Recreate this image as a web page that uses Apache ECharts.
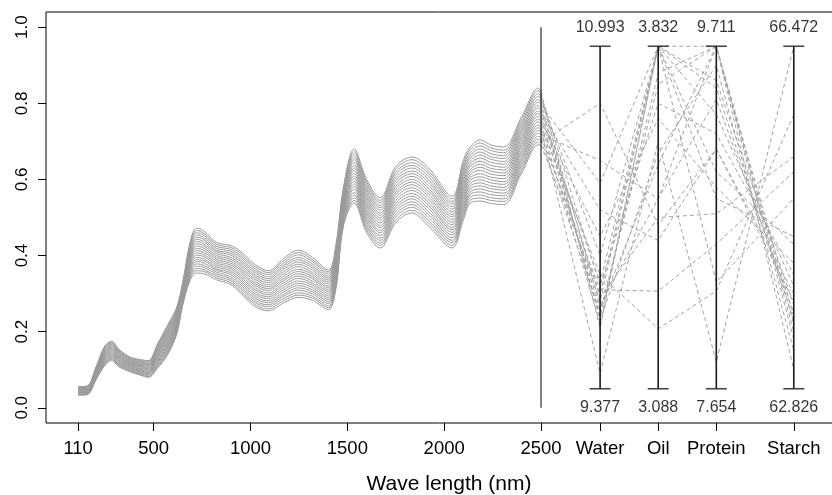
<!DOCTYPE html>
<html><head><meta charset="utf-8">
<script src="https://cdn.jsdelivr.net/npm/echarts@6/dist/echarts.min.js"></script>
<style>html,body{margin:0;padding:0;background:#fff}#c{width:832px;height:495px}</style>
</head><body><div id="c"></div><script>
// wavelength grid (nm) of the spectra
const wavelengths = [110,155,205,248,283,320,380,430,472,520,567,617,650,690,722,760,826,894,946,1000,1049,1092,1170,1247,1320,1402,1440,1480,1535,1600,1669,1750,1833,1920,2040,2100,2134,2186,2240,2307,2400,2487,2500];
// absorbance: one row per wavelength, one column per sample (21 samples)
const absorbance = [
[0.033,0.034,0.035,0.036,0.038,0.039,0.040,0.041,0.042,0.043,0.045,0.046,0.047,0.048,0.049,0.050,0.051,0.053,0.054,0.055,0.056],
[0.034,0.035,0.036,0.037,0.039,0.040,0.041,0.042,0.043,0.044,0.046,0.047,0.048,0.049,0.050,0.051,0.052,0.054,0.055,0.056,0.057],
[0.076,0.078,0.080,0.081,0.083,0.085,0.087,0.088,0.090,0.092,0.094,0.095,0.097,0.099,0.101,0.102,0.104,0.106,0.108,0.109,0.111],
[0.111,0.114,0.116,0.119,0.121,0.124,0.127,0.129,0.132,0.134,0.137,0.140,0.142,0.145,0.147,0.150,0.153,0.155,0.158,0.160,0.163],
[0.124,0.127,0.129,0.132,0.134,0.137,0.139,0.142,0.144,0.147,0.150,0.152,0.155,0.157,0.160,0.162,0.165,0.167,0.170,0.172,0.175],
[0.108,0.110,0.113,0.115,0.117,0.120,0.122,0.124,0.126,0.129,0.131,0.133,0.136,0.138,0.140,0.143,0.145,0.147,0.149,0.152,0.154],
[0.094,0.096,0.098,0.100,0.102,0.104,0.106,0.108,0.110,0.112,0.114,0.115,0.117,0.119,0.121,0.123,0.125,0.127,0.129,0.131,0.133],
[0.086,0.088,0.090,0.092,0.094,0.096,0.098,0.100,0.102,0.104,0.107,0.109,0.111,0.113,0.115,0.117,0.119,0.121,0.123,0.125,0.127],
[0.080,0.082,0.084,0.087,0.089,0.091,0.093,0.095,0.098,0.100,0.102,0.104,0.106,0.109,0.111,0.113,0.115,0.117,0.120,0.122,0.124],
[0.104,0.107,0.110,0.114,0.117,0.120,0.123,0.126,0.130,0.133,0.136,0.139,0.142,0.146,0.149,0.152,0.155,0.158,0.162,0.165,0.168],
[0.135,0.139,0.143,0.147,0.151,0.155,0.158,0.162,0.166,0.170,0.174,0.178,0.182,0.186,0.190,0.194,0.197,0.201,0.205,0.209,0.213],
[0.190,0.194,0.197,0.201,0.204,0.208,0.212,0.215,0.219,0.222,0.226,0.230,0.233,0.237,0.240,0.244,0.248,0.251,0.255,0.258,0.262],
[0.270,0.273,0.276,0.279,0.282,0.285,0.288,0.291,0.294,0.297,0.300,0.303,0.306,0.309,0.312,0.315,0.318,0.321,0.324,0.327,0.330],
[0.337,0.342,0.347,0.352,0.358,0.363,0.368,0.373,0.378,0.383,0.389,0.394,0.399,0.404,0.409,0.414,0.419,0.425,0.430,0.435,0.440],
[0.354,0.360,0.366,0.372,0.378,0.384,0.389,0.395,0.401,0.407,0.413,0.419,0.425,0.431,0.437,0.443,0.448,0.454,0.460,0.466,0.472],
[0.352,0.358,0.363,0.369,0.374,0.380,0.386,0.391,0.397,0.402,0.408,0.414,0.419,0.425,0.430,0.436,0.442,0.447,0.453,0.458,0.464],
[0.336,0.341,0.346,0.351,0.356,0.361,0.365,0.370,0.375,0.380,0.385,0.390,0.395,0.400,0.405,0.410,0.414,0.419,0.424,0.429,0.434],
[0.325,0.330,0.335,0.340,0.345,0.351,0.356,0.361,0.366,0.371,0.376,0.381,0.386,0.391,0.396,0.402,0.407,0.412,0.417,0.422,0.427],
[0.303,0.308,0.314,0.319,0.325,0.330,0.336,0.341,0.347,0.352,0.358,0.363,0.368,0.374,0.379,0.385,0.390,0.396,0.401,0.407,0.412],
[0.275,0.281,0.286,0.292,0.297,0.303,0.308,0.314,0.319,0.325,0.331,0.336,0.342,0.347,0.353,0.358,0.364,0.369,0.375,0.380,0.386],
[0.259,0.264,0.270,0.275,0.281,0.286,0.292,0.297,0.303,0.308,0.314,0.319,0.324,0.330,0.335,0.341,0.346,0.352,0.357,0.363,0.368],
[0.255,0.260,0.266,0.271,0.276,0.281,0.287,0.292,0.297,0.302,0.308,0.313,0.318,0.323,0.329,0.334,0.339,0.344,0.350,0.355,0.360],
[0.275,0.281,0.287,0.293,0.298,0.304,0.310,0.316,0.322,0.328,0.334,0.339,0.345,0.351,0.357,0.363,0.369,0.374,0.380,0.386,0.392],
[0.290,0.296,0.302,0.309,0.315,0.321,0.327,0.333,0.340,0.346,0.352,0.358,0.364,0.371,0.377,0.383,0.389,0.395,0.402,0.408,0.414],
[0.282,0.288,0.293,0.299,0.305,0.310,0.316,0.322,0.327,0.333,0.339,0.344,0.350,0.355,0.361,0.367,0.372,0.378,0.384,0.389,0.395],
[0.258,0.263,0.268,0.274,0.279,0.284,0.289,0.294,0.300,0.305,0.310,0.315,0.320,0.326,0.331,0.336,0.341,0.346,0.352,0.357,0.362],
[0.310,0.316,0.322,0.327,0.333,0.339,0.345,0.350,0.356,0.362,0.368,0.373,0.379,0.385,0.391,0.396,0.402,0.408,0.414,0.419,0.425],
[0.478,0.483,0.488,0.493,0.498,0.504,0.509,0.514,0.519,0.524,0.529,0.534,0.539,0.544,0.549,0.555,0.560,0.565,0.570,0.575,0.580],
[0.538,0.545,0.552,0.559,0.566,0.574,0.581,0.588,0.595,0.602,0.609,0.616,0.623,0.630,0.637,0.645,0.652,0.659,0.666,0.673,0.680],
[0.460,0.467,0.474,0.481,0.488,0.495,0.502,0.509,0.516,0.523,0.530,0.537,0.544,0.551,0.558,0.565,0.572,0.579,0.586,0.593,0.600],
[0.420,0.427,0.433,0.440,0.446,0.453,0.460,0.466,0.473,0.479,0.486,0.493,0.499,0.506,0.512,0.519,0.526,0.532,0.539,0.545,0.552],
[0.486,0.493,0.501,0.508,0.516,0.523,0.530,0.538,0.545,0.553,0.560,0.567,0.575,0.582,0.590,0.597,0.604,0.612,0.619,0.627,0.634],
[0.512,0.519,0.527,0.534,0.541,0.549,0.556,0.563,0.571,0.578,0.586,0.593,0.600,0.608,0.615,0.622,0.630,0.637,0.644,0.652,0.659],
[0.477,0.485,0.492,0.500,0.508,0.515,0.523,0.531,0.538,0.546,0.554,0.561,0.569,0.576,0.584,0.592,0.599,0.607,0.615,0.622,0.630],
[0.420,0.427,0.434,0.440,0.447,0.454,0.461,0.468,0.474,0.481,0.488,0.495,0.502,0.508,0.515,0.522,0.529,0.536,0.542,0.549,0.556],
[0.495,0.503,0.511,0.519,0.526,0.534,0.542,0.550,0.558,0.566,0.574,0.581,0.589,0.597,0.605,0.613,0.621,0.628,0.636,0.644,0.652],
[0.538,0.545,0.553,0.560,0.567,0.575,0.582,0.589,0.597,0.604,0.612,0.619,0.626,0.634,0.641,0.648,0.656,0.663,0.670,0.678,0.685],
[0.543,0.551,0.559,0.567,0.575,0.583,0.591,0.599,0.607,0.615,0.624,0.632,0.640,0.648,0.656,0.664,0.672,0.680,0.688,0.696,0.704],
[0.537,0.545,0.552,0.560,0.568,0.576,0.583,0.591,0.599,0.606,0.614,0.622,0.629,0.637,0.645,0.653,0.660,0.668,0.676,0.683,0.691],
[0.534,0.542,0.549,0.557,0.564,0.572,0.579,0.587,0.594,0.602,0.610,0.617,0.625,0.632,0.640,0.647,0.655,0.662,0.670,0.677,0.685],
[0.617,0.624,0.632,0.639,0.647,0.654,0.661,0.669,0.676,0.684,0.691,0.698,0.706,0.713,0.721,0.728,0.735,0.743,0.750,0.758,0.765],
[0.691,0.698,0.706,0.713,0.721,0.728,0.736,0.743,0.751,0.758,0.766,0.773,0.780,0.788,0.795,0.803,0.810,0.818,0.825,0.833,0.840],
[0.690,0.697,0.704,0.711,0.718,0.725,0.732,0.739,0.746,0.753,0.760,0.767,0.774,0.781,0.788,0.795,0.802,0.809,0.816,0.823,0.830]
];
// sample properties (one value per sample)
const water   = [9.826,10.724,9.736,9.844,10.454,9.790,9.449,9.916,9.682,10.095,9.754,9.880,10.221,9.718,9.808,10.347,9.700,10.006,9.772,9.862,9.664];
const oil     = [3.832,3.444,3.749,3.300,3.501,3.832,3.625,3.218,3.832,3.675,3.576,3.832,3.410,3.774,3.460,3.832,3.600,3.832,3.501,3.708,3.832];
const protein = [8.797,9.094,9.711,8.523,9.391,9.711,7.814,8.241,9.460,8.865,9.711,8.294,9.094,9.711,8.705,9.300,9.597,8.957,9.711,9.185,9.505];
const starch  = [64.446,63.839,63.515,65.135,63.636,63.353,66.472,65.743,63.555,64.163,63.029,64.852,63.758,63.434,65.297,63.920,63.231,64.365,63.596,64.041,63.717];
// property axes
const propNames = ['Water','Oil','Protein','Starch'];
const propMin = [9.377, 3.088, 7.654, 62.826];
const propMax = [10.993, 3.832, 9.711, 66.472];
// tick labels on the wavelength axis
const waveTicks = [110, 500, 1000, 1500, 2000, 2500];
const yTicks = [0, 0.2, 0.4, 0.6, 0.8, 1.0];

// layout (positions of the property axes on the x scale)
const propPos = [2805, 3105, 3405, 3805];
const FONT = '"Liberation Sans", Arial, Helvetica, sans-serif';
const props = [water, oil, protein, starch];
const nS = water.length;
const norm = (v, j) => 0.05 + 0.9 * (v - propMin[j]) / (propMax[j] - propMin[j]);

const series = [];
for (let k = 0; k < nS; k++) {
  series.push({
    type: 'line', silent: true, symbol: 'none', smooth: 0.35, z: 2,
    lineStyle: { color: '#9a9a9a', width: 1 },
    data: wavelengths.map((w, i) => [w, absorbance[i][k]])
  });
}
for (let k = 0; k < nS; k++) {
  const d = [[wavelengths[wavelengths.length - 1], absorbance[absorbance.length - 1][k]]];
  for (let j = 0; j < 4; j++) d.push([propPos[j], norm(props[j][k], j)]);
  series.push({
    type: 'line', silent: true, symbol: 'none', z: 3,
    lineStyle: { color: '#a3a3a3', width: 1, type: [4, 3] },
    data: d
  });
}
// vertical line at the end of the spectra
series.push({ type: 'line', silent: true, symbol: 'none', z: 4,
  lineStyle: { color: '#000', width: 1 }, data: [[2500, 0], [2500, 1]] });
// property axes
for (let j = 0; j < 4; j++) {
  series.push({ type: 'line', silent: true, symbol: 'none', z: 5,
    lineStyle: { color: '#1a1a1a', width: 1.6 }, data: [[propPos[j], 0.05], [propPos[j], 0.95]] });
}
// caps
series.push({ type: 'scatter', silent: true, z: 5, symbol: 'rect', symbolSize: [21, 1.6],
  itemStyle: { color: '#1a1a1a' },
  data: propPos.flatMap(p => [[p, 0.05], [p, 0.95]]) });
// min / max labels
series.push({ type: 'scatter', silent: true, z: 6, symbolSize: 0.1,
  itemStyle: { color: 'transparent' },
  label: { show: true, position: 'inside', color: '#000', fontFamily: FONT, fontSize: 16,
    formatter: p => p.value[2] },
  data: propPos.flatMap((p, j) => [[p, 1.0, propMax[j].toFixed(3)], [p, 0.0, propMin[j].toFixed(3)]]) });

const xLabelMap = {};
waveTicks.forEach(v => xLabelMap[v] = String(v));
propPos.forEach((p, j) => xLabelMap[p] = propNames[j]);

const chart = echarts.init(document.getElementById('c'), null, { renderer: 'canvas' });
chart.setOption({
  animation: false,
  backgroundColor: '#fff',
  grid: { left: 46, top: 12, width: 796, height: 411, show: true, borderColor: '#000', borderWidth: 1,
    containLabel: false, outerBoundsMode: 'none' },
  xAxis: {
    type: 'value', min: -56, max: 4054,
    axisLine: { show: false, onZero: false },
    splitLine: { show: false },
    axisTick: { show: true, length: 8, lineStyle: { color: '#000' }, customValues: waveTicks.concat(propPos) },
    axisLabel: { show: true, margin: 16, color: '#000', fontFamily: FONT, fontSize: 18.5,
      customValues: waveTicks.concat(propPos), formatter: v => xLabelMap[v] }
  },
  yAxis: {
    type: 'value', min: -0.04, max: 1.04,
    axisLine: { show: false, onZero: false },
    splitLine: { show: false },
    axisTick: { show: true, length: 8, lineStyle: { color: '#000' }, customValues: yTicks },
    axisLabel: { show: true, rotate: 90, margin: 15.5, color: '#000', fontFamily: FONT, fontSize: 17,
      customValues: yTicks, formatter: v => v.toFixed(1) }
  },
  graphic: [{ type: 'text', x: 449, y: 484, silent: true,
    style: { text: 'Wave length (nm)', fontFamily: FONT, fontSize: 21, fill: '#000', textAlign: 'center', textVerticalAlign: 'middle' } }],
  series: series
});
</script></body></html>
